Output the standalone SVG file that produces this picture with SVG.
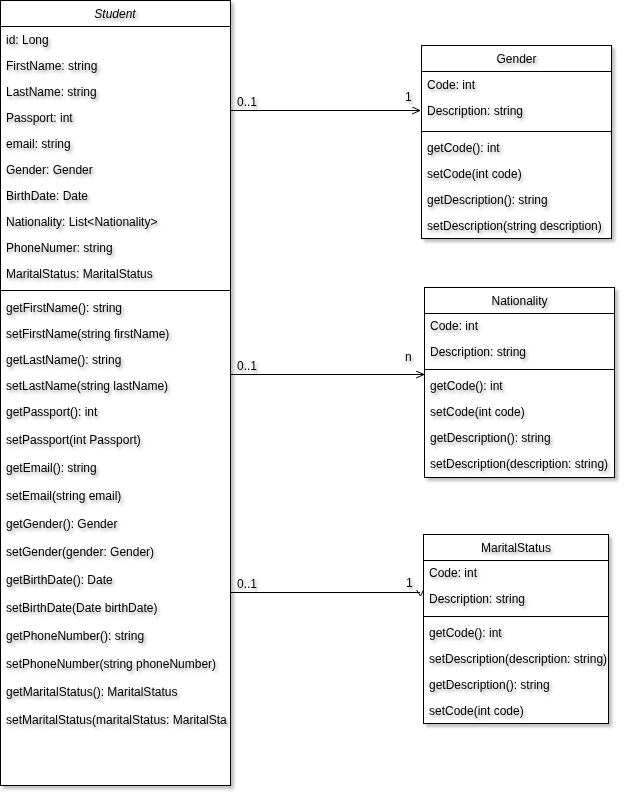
<svg xmlns="http://www.w3.org/2000/svg" width="626" height="798" viewBox="0 0 626 798">
<style>
text{font-family:"Liberation Sans",Arial,sans-serif;font-size:12px;fill:#000;filter:url(#ts)}
.t{text-anchor:middle}
.it{font-style:italic}
.box{fill:#fff;stroke:#000;stroke-width:1;filter:url(#bs)}
.ln{stroke:#000;stroke-width:1;fill:none}
</style>
<defs>
<filter id="bs" x="-10%" y="-10%" width="130%" height="130%"><feDropShadow dx="3" dy="3" stdDeviation="1.5" flood-color="#000" flood-opacity="0.25"/></filter>
<filter id="ts" x="-10%" y="-50%" width="130%" height="250%"><feDropShadow dx="2" dy="2.5" stdDeviation="1.5" flood-color="#000" flood-opacity="0.35"/></filter>
<clipPath id="msclip"><rect x="423" y="534" width="184" height="190"/></clipPath>
<marker id="arr" markerWidth="12" markerHeight="12" refX="9" refY="4" orient="auto" markerUnits="userSpaceOnUse"><path d="M1,0.5 L9,4 L1,7.5" fill="none" stroke="#000" stroke-width="1"/></marker>
</defs>
<g id="connectors">
<path class="ln" d="M230.5,110.5 L420,110.5" marker-end="url(#arr)"/>
<text x="237" y="106">0..1</text><text x="405" y="101">1</text>
<path class="ln" d="M230.5,374.5 L424,374.5" marker-end="url(#arr)"/>
<text x="237" y="370">0..1</text><text x="405" y="361">n</text>
<path class="ln" d="M230.5,592.5 L420,592.5"/>
<path class="ln" d="M416.5,590 L420.5,596 L424,589"/>
<text x="237" y="588">0..1</text><text x="406" y="587">1</text>
</g>
<g id="student">
<rect class="box" x="0.5" y="0.5" width="230" height="785"/>
<path class="ln" d="M0.5,26.5 H230.5 M0.5,290.5 H230.5"/>
<text class="t it" x="115" y="18">Student</text>
<text x="6" y="44">id: Long</text>
<text x="6" y="70">FirstName: string</text>
<text x="6" y="96">LastName: string</text>
<text x="6" y="122">Passport: int</text>
<text x="6" y="148">email: string</text>
<text x="6" y="174">Gender: Gender</text>
<text x="6" y="200">BirthDate: Date</text>
<text x="6" y="226">Nationality: List&lt;Nationality&gt;</text>
<text x="6" y="252">PhoneNumer: string</text>
<text x="6" y="278">MaritalStatus: MaritalStatus</text>
<text x="6" y="312">getFirstName(): string</text>
<text x="6" y="338">setFirstName(string firstName)</text>
<text x="6" y="364">getLastName(): string</text>
<text x="6" y="390">setLastName(string lastName)</text>
<text x="6" y="416">getPassport(): int</text>
<text x="6" y="444">setPassport(int Passport)</text>
<text x="6" y="472">getEmail(): string</text>
<text x="6" y="500">setEmail(string email)</text>
<text x="6" y="528">getGender(): Gender</text>
<text x="6" y="556">setGender(gender: Gender)</text>
<text x="6" y="584">getBirthDate(): Date</text>
<text x="6" y="612">setBirthDate(Date birthDate)</text>
<text x="6" y="640">getPhoneNumber(): string</text>
<text x="6" y="668">setPhoneNumber(string phoneNumber)</text>
<text x="6" y="696">getMaritalStatus(): MaritalStatus</text>
<text x="6" y="724">setMaritalStatus(maritalStatus: MaritalSta</text>
</g>
<g id="gender">
<rect class="box" x="421.5" y="45.5" width="190" height="193"/>
<path class="ln" d="M421.5,71.5 H611.5 M421.5,131.5 H611.5"/>
<text class="t" x="516.5" y="63">Gender</text>
<text x="427" y="89">Code: int</text>
<text x="427" y="115">Description: string</text>
<text x="427" y="152">getCode(): int</text>
<text x="427" y="178">setCode(int code)</text>
<text x="427" y="204">getDescription(): string</text>
<text x="427" y="230">setDescription(string description)</text>
</g>
<g id="nationality">
<rect class="box" x="424.5" y="287.5" width="190" height="190"/>
<path class="ln" d="M424.5,313.5 H614.5 M424.5,369.5 H614.5"/>
<text class="t" x="519.5" y="305">Nationality</text>
<text x="430" y="330">Code: int</text>
<text x="430" y="356">Description: string</text>
<text x="430" y="390">getCode(): int</text>
<text x="430" y="416">setCode(int code)</text>
<text x="430" y="442">getDescription(): string</text>
<text x="430" y="468">setDescription(description: string)</text>
</g>
<g id="maritalstatus">
<rect class="box" x="423.5" y="534.5" width="185" height="189"/>
<path class="ln" d="M423.5,560.5 H608.5 M423.5,616.5 H608.5"/>
<text class="t" x="516" y="552">MaritalStatus</text>
<text x="429" y="577">Code: int</text>
<text x="429" y="603">Description: string</text>
<text x="429" y="637">getCode(): int</text>
<g clip-path="url(#msclip)"><text x="429" y="663">setDescription(description: string)</text></g>
<text x="429" y="689">getDescription(): string</text>
<text x="429" y="715">setCode(int code)</text>
</g>
</svg>
